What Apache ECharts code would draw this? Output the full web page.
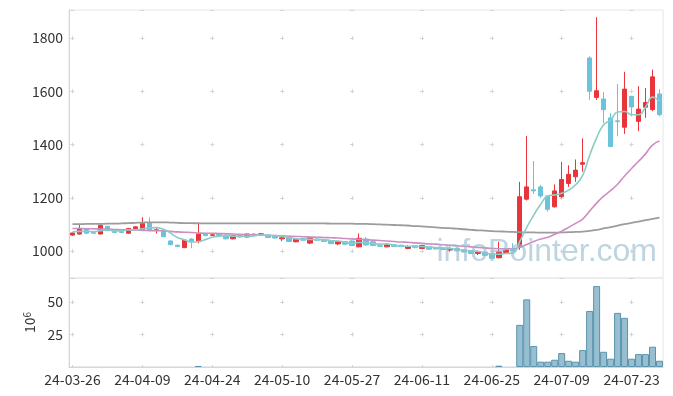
<!DOCTYPE html>
<html><head><meta charset="utf-8">
<script src="https://cdn.jsdelivr.net/npm/echarts@6/dist/echarts.min.js"></script>
<style>html,body{margin:0;padding:0;background:#fff}#c{width:673px;height:396px}</style>
</head><body><div id="c"></div>
<script>
const dates = ['24-03-26','24-03-27','24-03-28','24-03-29',
'24-04-01','24-04-02','24-04-03','24-04-04','24-04-05','24-04-08','24-04-09','24-04-11','24-04-12','24-04-15','24-04-16','24-04-17','24-04-18','24-04-19','24-04-22','24-04-23','24-04-24','24-04-25','24-04-26','24-04-29','24-04-30',
'24-05-02','24-05-03','24-05-07','24-05-08','24-05-09','24-05-10','24-05-13','24-05-14','24-05-16','24-05-17','24-05-20','24-05-21','24-05-22','24-05-23','24-05-24','24-05-27','24-05-28','24-05-29','24-05-30','24-05-31',
'24-06-03','24-06-04','24-06-05','24-06-07','24-06-10','24-06-11','24-06-12','24-06-13','24-06-14','24-06-17','24-06-18','24-06-19','24-06-20','24-06-21','24-06-24','24-06-25','24-06-26','24-06-27','24-06-28',
'24-07-01','24-07-02','24-07-03','24-07-04','24-07-05','24-07-08','24-07-09','24-07-10','24-07-11','24-07-12','24-07-15','24-07-16','24-07-17','24-07-18','24-07-19','24-07-22','24-07-23','24-07-24','24-07-25','24-07-26','24-07-29'];

const opens = [1060,1064,1081,1070,1064,1093,1079,1074,1067,1084,
1077,1106,1077,1074,1038,1022,1013,1045,1036,1064,
1059,1064,1060,1046,1060,1053,1061,1062,1060,1056,
1046,1050,1035,1047,1030,1045,1041,1039,1027,1036,
1038,1016,1045,1035,1020,1016,1024,1022,1010,1020,
1010,1016,1013,1012,1004,1010,1004,1001,991,996,
991,975,994,1004,1016,1195,1230,1241,1207,1166,
1204,1254,1279,1326,1725,1577,1571,1500,1489,1465,
1581,1487,1540,1531,1590];
const closes = [1068,1085,1067,1067,1097,1077,1070,1070,1085,1091,
1104,1079,1080,1054,1024,1017,1041,1036,1064,1058,
1061,1059,1046,1058,1053,1064,1063,1065,1051,1049,
1050,1036,1045,1041,1050,1041,1036,1028,1035,1026,
1021,1048,1023,1021,1018,1024,1017,1017,1016,1014,
1021,1007,1008,1006,1010,1001,997,991,997,984,
973,997,1004,1000,1204,1241,1226,1207,1157,1226,
1269,1288,1304,1332,1600,1602,1531,1393,1486,1608,
1541,1533,1558,1654,1512];
const lows = [1058,1062,1064,1065,1063,1075,1068,1068,1065,1082,
1075,1077,1066,1052,1022,1015,1011,1011,1029,1056,
1057,1057,1044,1044,1051,1051,1059,1060,1049,1047,
1037,1034,1033,1039,1026,1039,1034,1026,1022,1024,
1019,1014,1021,1019,1015,1014,1015,1015,1007,1010,
1008,1005,1006,1004,998,999,995,989,985,982,
970,973,992,998,1005,1190,1214,1200,1148,1164,
1200,1241,1260,1298,1568,1568,1481,1390,1431,1440,
1506,1450,1500,1525,1506];
const highs = [1070,1098,1084,1072,1099,1095,1081,1076,1087,1093,
1127,1127,1091,1076,1040,1024,1043,1049,1108,1068,
1066,1066,1062,1060,1062,1066,1066,1068,1062,1058,
1052,1052,1047,1049,1052,1047,1043,1041,1037,1038,
1040,1066,1053,1037,1023,1026,1026,1024,1022,1022,
1023,1018,1015,1014,1014,1012,1006,1003,1002,998,
993,1035,1006,1030,1260,1432,1338,1248,1209,1250,
1335,1322,1344,1423,1731,1878,1597,1518,1627,1673,
1583,1619,1612,1681,1608];
const volumes = [0.1,0.1,0.1,0.1,0.1,0.1,0.1,0.1,0.1,0.1,
0.1,0.1,0.1,0.1,0.1,0.1,0.1,0.1,0.8,0.1,
0.1,0.1,0.1,0.1,0.1,0.1,0.1,0.1,0.1,0.1,
0.1,0.1,0.1,0.1,0.1,0.1,0.1,0.1,0.1,0.1,
0.1,0.1,0.1,0.1,0.1,0.1,0.1,0.1,0.1,0.1,
0.1,0.1,0.1,0.1,0.1,0.1,0.1,0.1,0.1,0.1,
0.1,1.0,0.1,0.1,32.4,52.0,16.1,4.1,4.1,5.6,
10.7,4.8,4.1,13.0,43.1,62.2,11.7,6.4,41.6,37.8,
6.4,9.9,9.9,15.6,4.8];
const ma5 = [1072,1074,1074,1073,1077,1079,1076,1076,1080,1079,
1084,1086,1088,1082,1068,1051,1043,1034,1036,1043,
1052,1056,1058,1056,1055,1056,1057,1061,1059,1058,
1056,1050,1046,1044,1044,1043,1043,1039,1038,1033,
1029,1032,1031,1028,1026,1027,1021,1019,1018,1018,
1017,1015,1013,1011,1010,1006,1004,1001,999,994,
988,988,991,992,1036,1089,1135,1176,1207,1211,
1217,1229,1249,1284,1359,1425,1474,1492,1522,1524,
1512,1512,1540,1578,1562];
const ma20 = [1085,1085,1084,1084,1083,1082,1081,1080,1079,1078,
1078,1077,1077,1076,1074,1072,1071,1070,1068,1067,
1067,1066,1065,1064,1063,1062,1061,1060,1059,1058,
1057,1056,1055,1054,1053,1052,1051,1050,1049,1047,
1046,1044,1043,1041,1040,1038,1036,1034,1033,1031,
1029,1027,1026,1024,1022,1020,1018,1016,1014,1012,
1010,1009,1009,1008,1014,1025,1036,1045,1052,1063,
1075,1089,1104,1120,1150,1180,1206,1227,1251,1282,
1310,1337,1365,1398,1413];
const ma120 = [1101,1101,1102,1102,1102,1103,1103,1104,1105,1106,
1107,1108,1108,1108,1107,1106,1105,1105,1104,1104,
1104,1104,1104,1104,1104,1104,1104,1104,1104,1104,
1104,1104,1104,1104,1104,1104,1104,1103,1103,1103,
1103,1102,1102,1101,1100,1099,1098,1097,1096,1094,
1093,1091,1089,1087,1086,1084,1082,1080,1078,1077,
1075,1074,1073,1072,1071,1070,1070,1069,1069,1069,
1070,1071,1072,1073,1076,1080,1085,1090,1096,1101,
1106,1111,1116,1121,1126];
const priceRange = [899, 1905];
const volumeTicks = [25, 50];

const candles = dates.map((d, i) => [opens[i], closes[i], lows[i], highs[i]]);
// near-zero volumes are drawn without an outline so they vanish like in the original
const volumeItems = volumes.map(v => v < 0.5 ? {value: v, itemStyle: {borderWidth: 0}} : v);

const labelFont = {color: '#333', fontSize: 14, fontFamily: 'Noto Sans CJK KR'};
const crossColor = '#d4d4d4';

const chart = echarts.init(document.getElementById('c'), null, {renderer: 'canvas'});
chart.setOption({
  animation: false,
  backgroundColor: '#fff',
  grid: [
    {left: 69, right: 10, top: 10, height: 268, show: true, borderColor: '#e6e6e6', borderWidth: 1},
    {left: 69, right: 10, top: 278, height: 89, show: true, borderColor: '#e6e6e6', borderWidth: 1}
  ],
  xAxis: [
    {type: 'category', gridIndex: 0, data: dates, boundaryGap: true,
     axisLine: {show: false}, axisTick: {show: false}, axisLabel: {show: false},
     splitLine: {show: true, interval: 9, alignWithLabel: true,
       lineStyle: {color: crossColor, width: 1, type: [4, 49.28], dashOffset: 27.28}}},
    {type: 'category', gridIndex: 1, data: dates, boundaryGap: true,
     axisLine: {show: true, lineStyle: {color: '#d6d6d6'}}, axisTick: {show: false},
     axisLabel: Object.assign({interval: 9, margin: 6}, labelFont),
     splitLine: {show: true, interval: 9, alignWithLabel: true,
       lineStyle: {color: crossColor, width: 1, type: [4, 28.53], dashOffset: 10.59}}}
  ],
  yAxis: [
    {type: 'value', gridIndex: 0, min: priceRange[0], max: priceRange[1], splitNumber: 5,
     axisLine: {show: true, lineStyle: {color: '#d6d6d6'}}, axisTick: {show: false},
     axisLabel: Object.assign({showMinLabel: false, showMaxLabel: false, margin: 6, formatter: v => String(v)}, labelFont),
     splitLine: {show: true, lineStyle: {color: crossColor, width: 1, type: [4, 65.88], dashOffset: 68.39}}},
    {type: 'value', gridIndex: 1, min: 0, max: Math.max(...volumes) * 1.1, interval: volumeTicks[0],
     name: '10{s|6}', nameLocation: 'middle', nameGap: 32, nameRotate: 90,
     nameTextStyle: {color: '#333', fontSize: 14, fontFamily: 'Noto Sans CJK KR',
       rich: {s: {color: '#333', fontSize: 10, fontFamily: 'Noto Sans CJK KR', verticalAlign: 'top', lineHeight: 14}}},
     axisLine: {show: true, lineStyle: {color: '#d6d6d6'}}, axisTick: {show: false},
     axisLabel: Object.assign({showMinLabel: false, showMaxLabel: false, margin: 6, formatter: v => String(v)}, labelFont),
     splitLine: {show: true, lineStyle: {color: crossColor, width: 1, type: [4, 65.88], dashOffset: 68.39}}}
  ],
  series: [
    {type: 'candlestick', xAxisIndex: 0, yAxisIndex: 0, data: candles, barWidth: 5,
     itemStyle: {color: '#e8353b', color0: '#6bc3db', borderColor: '#e8353b', borderColor0: '#6bc3db', borderWidth: 1}},
    {type: 'line', xAxisIndex: 0, yAxisIndex: 0, data: ma120, smooth: true, showSymbol: false,
     lineStyle: {color: '#9c9c9c', width: 1.8}},
    {type: 'line', xAxisIndex: 0, yAxisIndex: 0, data: ma20, smooth: true, showSymbol: false,
     lineStyle: {color: '#cf8cc2', width: 1.6}},
    {type: 'line', xAxisIndex: 0, yAxisIndex: 0, data: ma5, smooth: true, showSymbol: false,
     lineStyle: {color: '#8ccdc7', width: 1.6}},
    {type: 'bar', xAxisIndex: 1, yAxisIndex: 1, data: volumeItems, barCategoryGap: '0%',
     itemStyle: {color: '#97bfd0', borderColor: '#5a93ae', borderWidth: 1}}
  ],
  graphic: [
    {type: 'text', right: 16, top: 236, z: 100, silent: true,
     style: {text: 'infoPointer.com', font: '32px "Liberation Sans"', fill: 'rgba(150,186,206,0.62)'}}
  ]
});
</script>
</body></html>
